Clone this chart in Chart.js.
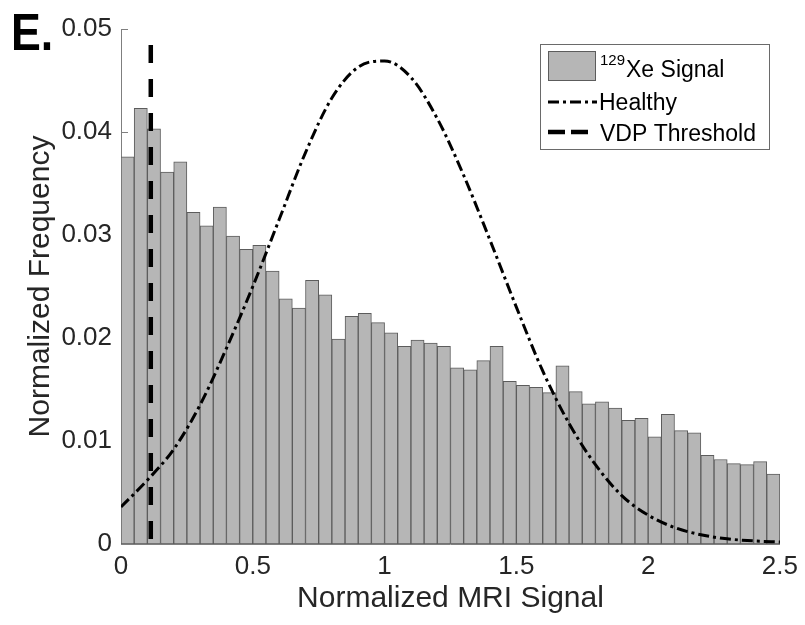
<!DOCTYPE html>
<html><head><meta charset="utf-8">
<script src="https://cdn.jsdelivr.net/npm/chart.js@4/dist/chart.umd.min.js"></script>
<style>html,body{margin:0;padding:0;background:#fff}#wrap{width:805px;height:625px;position:relative}</style>
</head><body><div id="wrap"><canvas id="c" width="805" height="625"></canvas></div>
<script>
const binLabels = ['0.00','0.05','0.10','0.15','0.20','0.25','0.30','0.35','0.40','0.45',
  '0.50','0.55','0.60','0.65','0.70','0.75','0.80','0.85','0.90','0.95',
  '1.00','1.05','1.10','1.15','1.20','1.25','1.30','1.35','1.40','1.45',
  '1.50','1.55','1.60','1.65','1.70','1.75','1.80','1.85','1.90','1.95',
  '2.00','2.05','2.10','2.15','2.20','2.25','2.30','2.35','2.40','2.45'];
const xeSignal = [0.0376,0.0423,0.0403,0.0361,0.0371,0.0322,0.0309,0.0327,0.0299,0.0286,
  0.0290,0.0265,0.0238,0.0229,0.0256,0.0242,0.0199,0.0221,0.0224,0.0215,
  0.0205,0.0192,0.0198,0.0195,0.0192,0.0171,0.0169,0.0178,0.0192,0.0158,
  0.0154,0.0152,0.0147,0.0173,0.0148,0.0136,0.0138,0.0132,0.0120,0.0122,
  0.0104,0.0126,0.0110,0.0108,0.0086,0.0082,0.0078,0.0077,0.0080,0.0068];
const healthyX = [0,0.1,0.2,0.3,0.4,0.5,0.6,0.7,0.8,0.9,1.0,1.1,1.2,1.3,1.4,1.5,1.6,1.7,1.8,1.9,2.0,2.1,2.2,2.3,2.4,2.5];
const healthyY = [0.0036,0.0062,0.0092,0.0135,0.0190,0.0250,0.0315,0.0380,0.0433,0.0463,0.0469,0.0453,0.0413,0.0358,0.0295,0.0230,0.0168,0.0117,0.0077,0.0047,0.0028,0.0016,0.0009,0.0005,0.0003,0.0002];
const vdpThreshold = 0.113;
const xTicks = [0,0.5,1,1.5,2,2.5];
const xTickLabels = ['0','0.5','1','1.5','2','2.5'];
const yTicks = [0,0.01,0.02,0.03,0.04,0.05];
const yTickLabels = ['0','0.01','0.02','0.03','0.04','0.05'];

const FAM = '"Liberation Sans", Arial, Helvetica, sans-serif';
const TXT = '#262626';
const BAR_FILL = '#b6b6b6';
const BAR_EDGE = '#5c5c5c';

const decor = {
  id: 'decor',
  beforeDatasetsDraw(chart) {
    const ctx = chart.ctx, y = chart.scales.y, a = chart.chartArea;
    ctx.save();
    ctx.strokeStyle = '#7f7f7f'; ctx.lineWidth = 1;
    yTicks.forEach(v => {
      const py = Math.round(y.getPixelForValue(v)) + 0.5;
      ctx.beginPath(); ctx.moveTo(a.left, py); ctx.lineTo(a.left + 7, py); ctx.stroke();
    });
    ctx.restore();
  },
  afterDraw(chart) {
    const ctx = chart.ctx;
    ctx.save();
    ctx.fillStyle = '#000';
    ctx.font = 'bold 52px ' + FAM;
    ctx.textBaseline = 'alphabetic'; ctx.textAlign = 'left';
    ctx.save(); ctx.translate(11, 50); ctx.scale(0.86, 1); ctx.fillText('E.', 0, 0); ctx.restore();
    const L = 540, T = 44, R = 769, B = 149;
    ctx.fillStyle = '#fff'; ctx.fillRect(L, T, R - L, B - T);
    ctx.strokeStyle = '#6a6a6a'; ctx.lineWidth = 1;
    ctx.strokeRect(L + 0.5, T + 0.5, R - L, B - T);
    ctx.fillStyle = BAR_FILL; ctx.fillRect(548, 51, 47, 29);
    ctx.strokeStyle = BAR_EDGE; ctx.strokeRect(548.5, 51.5, 47, 29);
    ctx.fillStyle = '#000';
    ctx.font = '15px ' + FAM;
    ctx.fillText('129', 600, 65);
    const w129 = ctx.measureText('129').width;
    ctx.font = '23px ' + FAM;
    ctx.fillText('Xe Signal', 600 + w129 + 1, 77);
    ctx.fillText('Healthy', 599, 110);
    ctx.fillText('VDP Threshold', 600, 141);
    ctx.strokeStyle = '#000'; ctx.lineWidth = 3;
    ctx.setLineDash([11, 4, 3, 4]);
    ctx.beginPath(); ctx.moveTo(548, 102); ctx.lineTo(597, 102); ctx.stroke();
    ctx.lineWidth = 4.5; ctx.setLineDash([17, 6]);
    ctx.beginPath(); ctx.moveTo(548, 132); ctx.lineTo(588, 132); ctx.stroke();
    ctx.restore();
  }
};

new Chart(document.getElementById('c'), {
  type: 'bar',
  data: {
    labels: binLabels,
    datasets: [
      { type: 'line', label: 'VDP Threshold', xAxisID: 'x2', yAxisID: 'y',
        data: [{x: vdpThreshold, y: 0.05}, {x: vdpThreshold, y: 0}],
        borderColor: '#000', borderWidth: 4.5, borderDash: [18, 16], borderDashOffset: 18,
        pointRadius: 0, tension: 0, fill: false, order: 0 },
      { type: 'line', label: 'Healthy', xAxisID: 'x2', yAxisID: 'y',
        data: healthyX.map((x, i) => ({x: x, y: healthyY[i]})),
        borderColor: '#000', borderWidth: 3, borderDash: [11, 4, 3, 4],
        pointRadius: 0, cubicInterpolationMode: 'monotone', fill: false, order: 1 },
      { type: 'bar', label: '129Xe Signal', xAxisID: 'x', yAxisID: 'y',
        data: xeSignal, backgroundColor: BAR_FILL, borderColor: BAR_EDGE,
        borderWidth: 1, borderSkipped: false, barPercentage: 1, categoryPercentage: 1, grouped: false, order: 2 }
    ]
  },
  options: {
    responsive: false, animation: false,
    datasets: { bar: { barPercentage: 1, categoryPercentage: 1 } },
    layout: { padding: { top: 29, right: 20, left: 0, bottom: 0 } },
    plugins: { legend: { display: false }, tooltip: { enabled: false } },
    scales: {
      x: { type: 'category', display: false, offset: true },
      x2: { type: 'linear', position: 'bottom', min: 0, max: 2.5, offset: false,
        afterBuildTicks: s => { s.ticks = xTicks.map(v => ({value: v})); },
        ticks: { callback: (v, i) => xTickLabels[i], font: { family: FAM, size: 26 }, color: TXT, padding: 7, maxRotation: 0 },
        grid: { display: false, drawTicks: false, offset: false }, border: { display: true, color: '#7f7f7f', width: 1 },
        title: { display: true, text: 'Normalized MRI Signal', font: { family: FAM, size: 30 }, color: TXT, padding: { top: 0, bottom: 8 } },
        afterFit: s => { s.height = 81; } },
      y: { type: 'linear', position: 'left', min: 0, max: 0.05,
        afterBuildTicks: s => { s.ticks = yTicks.map(v => ({value: v})); },
        ticks: { callback: (v, i) => yTickLabels[i], font: { family: FAM, size: 26 }, color: TXT, padding: 9 },
        grid: { display: false, drawTicks: false }, border: { display: true, color: '#7f7f7f', width: 1 },
        title: { display: true, text: 'Normalized Frequency', font: { family: FAM, size: 30 }, color: TXT, padding: { top: 23, bottom: 0 } },
        afterFit: s => { s.width = 121; } }
    }
  },
  plugins: [decor]
});
</script></body></html>
